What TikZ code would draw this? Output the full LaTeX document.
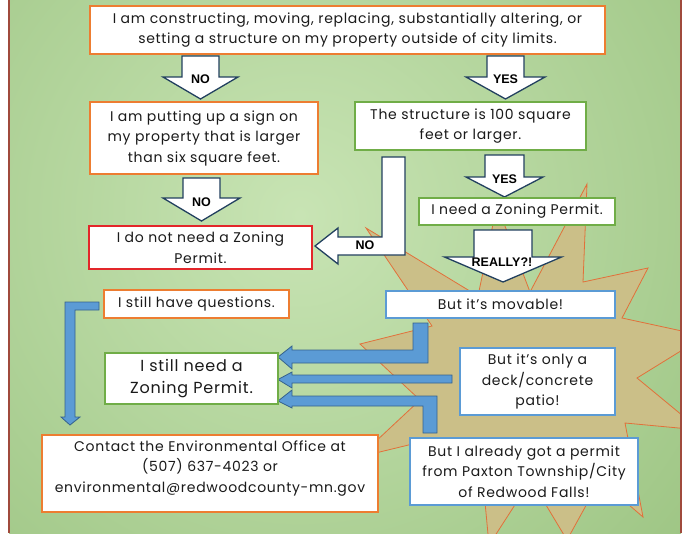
\documentclass[tikz,border=0pt]{standalone}
\usepackage{fontspec}
\newfontfamily\pop[LetterSpace=5]{Poppins}
\newfontfamily\lab{Liberation Sans}
\usetikzlibrary{calc}
\definecolor{orng}{HTML}{ED7D31}
\definecolor{grn}{HTML}{70AD47}
\definecolor{blu}{HTML}{5B9BD5}
\definecolor{redb}{HTML}{E3262A}
\definecolor{bluedge}{HTML}{35628C}
\definecolor{navy}{HTML}{22405F}
\definecolor{tanc}{HTML}{CBBF88}
\definecolor{burst}{HTML}{E2703A}
\definecolor{bgin}{HTML}{C8E4B4}
\definecolor{bgout}{HTML}{86B469}
\definecolor{framec}{HTML}{A04A3C}
\definecolor{txt}{HTML}{1A1A1A}
\newcommand\dnblock[6]{% cx, ytop, shaft half width, head base y, head half width, tip y
  \draw[wa] (#1-#3,#2) -- (#1+#3,#2) -- (#1+#3,#4) -- (#1+#5,#4) -- (#1,#6) -- (#1-#5,#4) -- (#1-#3,#4) -- cycle;}
\begin{document}
\begin{tikzpicture}[x=1pt,y=-1pt,
  box/.style={draw, line width=1.8pt, fill=white, align=center, inner sep=0pt, text=txt,
    font=\pop\fontsize{14}{20.5}\selectfont},
  wa/.style={fill=white, draw=navy, line width=1.3pt, line join=miter},
  ba/.style={fill=blu, draw=bluedge, line width=0.8pt, line join=miter},
  lbl/.style={font=\lab\bfseries\fontsize{12.5}{13}\selectfont, inner sep=0pt, text=black}]
\useasboundingbox (0,0) rectangle (684,533);
\fill[white] (0,0) rectangle (684,533);
\begin{scope}
  \clip (9,0) rectangle (681,533);
  \shade[inner color=bgin, outer color=bgout] (300,215) circle (800pt);
  \draw[fill=tanc, draw=burst, line width=0.8pt, line join=miter]
    (360,344) -- (432,326) -- (366,228) -- (478,296) -- (497,205) -- (530,292) -- (587,184)
    -- (583,282) -- (648,268) -- (622,318) -- (705,336) -- (637,378) -- (700,430) -- (625,423)
    -- (643,517) -- (600,480) -- (567,540) -- (531,480) -- (489,545) -- (482,470) -- (425,441)
    -- (359,457) -- (420,400) -- cycle;
\end{scope}
\draw[framec, line width=2pt] (9,0) -- (9,533) (681,0) -- (681,533);

% white block arrows
\dnblock{200.5}{56}{18.5}{77}{37.5}{99}
\dnblock{505.5}{56}{18.5}{77}{39.5}{99}
\dnblock{201.5}{178}{18.5}{198}{38.5}{221}
\dnblock{504.5}{155}{19.5}{177}{38.5}{197}
\dnblock{503}{230}{29}{257}{58.5}{282}
\draw[wa] (382,157) -- (405,157) -- (405,255) -- (338,255) -- (338,264) -- (315,246)
  -- (338,228) -- (338,237) -- (382,237) -- cycle;
\node[lbl] (no1) at (200.5,79) {NO};
\node[lbl] (yes1) at (505.5,79) {YES};
\node[lbl] (no2) at (201.5,202) {NO};
\node[lbl] (yes2) at (504.5,179) {YES};
\node[lbl] (really) at (502,262) {REALLY?!};
\node[lbl] (no3) at (365,245) {NO};

% blue arrows
\draw[ba] (99,302) -- (99,310) -- (75,310) -- (75,417) -- (80,417) -- (70,425) -- (61,417)
  -- (65,417) -- (65,302) -- cycle;
\draw[ba] (413,323) -- (428,323) -- (428,363) -- (292,363) -- (292,369) -- (278,357)
  -- (292,346) -- (292,350) -- (413,350) -- cycle;
\draw[ba] (452,375) -- (452,383) -- (292,383) -- (292,388) -- (278,379.5) -- (292,372)
  -- (292,375) -- cycle;
\draw[ba] (423,433) -- (437,433) -- (437,396) -- (292,396) -- (292,390) -- (278,401)
  -- (292,408) -- (292,406) -- (423,406) -- cycle;

% boxes
\node[box, draw=orng, minimum width=515pt, minimum height=48pt] (q1) at (347.5,30)
  {I am constructing, moving, replacing, substantially altering, or\\setting a structure on my property outside of city limits.};
\node[box, draw=orng, minimum width=228pt, minimum height=72pt] (sign) at (204,138)
  {I am putting up a sign on\\my property that is larger\\than six square feet.};
\node[box, draw=redb, minimum width=223pt, minimum height=43pt] (noneed) at (200.5,247.5)
  {I do not need a Zoning\\Permit.};
\node[box, draw=grn, minimum width=231pt, minimum height=48pt] (size) at (470.5,126)
  {The structure is 100 square\\feet or larger.};
\node[box, draw=grn, minimum width=196pt, minimum height=27pt] (need) at (517,211.5)
  {I need a Zoning Permit.};
\node[box, draw=blu, minimum width=229pt, minimum height=27pt] (movable) at (500.5,304.5)
  {But it’s movable!};
\node[box, draw=orng, minimum width=185pt, minimum height=28pt] (quest) at (196.5,304)
  {I still have questions.};
\node[box, draw=grn, minimum width=173pt, minimum height=51pt,
  font=\pop\fontsize{16}{22}\selectfont] (still) at (191.5,378.5)
  {I still need a\\Zoning Permit.};
\node[box, draw=orng, minimum width=336pt, minimum height=77pt, text depth=14pt] (contact) at (210,473.5)
  {Contact the Environmental Office at\\(507) 637-4023 or\\environmental@redwoodcounty-mn.gov};
\node[box, draw=blu, minimum width=155pt, minimum height=67pt] (deck) at (537.5,381.5)
  {But it’s only a\\deck/concrete\\patio!};
\node[box, draw=blu, minimum width=228pt, minimum height=67pt] (paxton) at (524,471.5)
  {But I already got a permit\\from Paxton Township/City\\of Redwood Falls!};
\end{tikzpicture}
\end{document}
